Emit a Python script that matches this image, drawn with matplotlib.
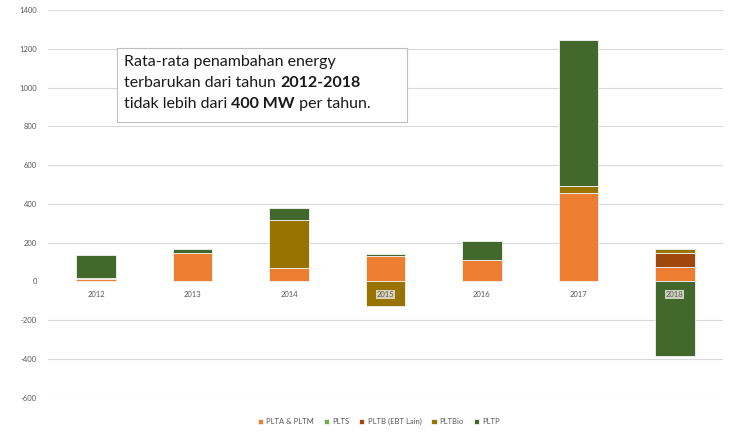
import numpy as np
import matplotlib.pyplot as plt

plt.rcParams['axes.unicode_minus'] = False

years = ['2012', '2013', '2014', '2015', '2016', '2017', '2018']
series_names = ['PLTA & PLTM', 'PLTS', 'PLTB (EBT Lain)', 'PLTBio', 'PLTP']
plta = [14, 146, 67, 131, 112, 458, 74]
plts = [0, 0, 0, 0, 0, 0, 0]
pltb = [0, 0, 0, 0, 0, 0, 74]
pltbio = [6, 0, 248, -125, 0, 33, 21]
pltp = [117, 23, 62, 12, 95, 754, -386]
colors = ['#ED7D31', '#70AD47', '#9E480E', '#997300', '#43682B']

fig = plt.figure(figsize=(7.5, 4.32), dpi=100)
ax = fig.add_axes([0.064, 0.079, 0.9, 0.898])

x = np.arange(len(years))
pos_base = np.zeros(len(years))
neg_base = np.zeros(len(years))
for name, vals, c in zip(series_names, [plta, plts, pltb, pltbio, pltp], colors):
    vals = np.array(vals, dtype=float)
    bottom = np.where(vals >= 0, pos_base, neg_base)
    ax.bar(x, vals, 0.41, bottom=bottom, color=c, label=name,
           edgecolor='#f4f4f4', linewidth=0.6, zorder=3)
    pos_base += np.where(vals > 0, vals, 0)
    neg_base += np.where(vals < 0, vals, 0)

ax.set_xlim(-0.5, len(years) - 0.5)
ax.set_ylim(-600, 1400)
ax.set_yticks(range(-600, 1401, 200))
ax.tick_params(axis='y', length=0, labelsize=5.5, labelcolor='#595959', pad=8)
for lbl in ax.get_yticklabels():
    lbl.set_family('Lato')
ax.set_xticks([])
for s in ax.spines.values():
    s.set_visible(False)
for v in range(-600, 1401, 200):
    if v != 0:
        ax.axhline(v, color='#D9D9D9', linewidth=0.8, zorder=1)

for i, yr in enumerate(years):
    bb = None
    if neg_base[i] < 0:
        bb = dict(boxstyle='square,pad=0.1', facecolor='#e8e4d8', edgecolor='none', alpha=0.85)
    ax.annotate(yr, (i, 0), xytext=(0, -12), textcoords='offset points', family='Lato',
                ha='center', va='bottom', fontsize=5.5, color='#595959', bbox=bb, zorder=5)

# text box with mixed bold
fig.patches.append(plt.Rectangle((117 / 750, 1 - 122 / 432), 290 / 750, 74 / 432,
                                 transform=fig.transFigure, facecolor='white',
                                 edgecolor='#BFBFBF', linewidth=0.8, zorder=4))
lines = [
    [('Rata-rata penambahan energy', 'normal')],
    [('terbarukan dari tahun ', 'normal'), ('2012-2018', 'bold')],
    [('tidak lebih dari ', 'normal'), ('400 MW', 'bold'), (' per tahun.', 'normal')],
]
renderer = fig.canvas.get_renderer()
for li, parts in enumerate(lines):
    xp = 124 / 750
    yp = 1 - (62 + li * 21) / 432
    for txt, wt in parts:
        t = fig.text(xp, yp, txt, fontsize=11.5, fontweight=wt, family='Lato',
                     va='center', ha='left', color='#1a1a1a', zorder=5)
        ext = t.get_window_extent(renderer)
        xp += ext.width / fig.bbox.width

leg = fig.legend(loc='lower center', bbox_to_anchor=(0.505, 0.0), ncol=5, frameon=False,
                 fontsize=5.5, handlelength=0.7, handleheight=0.7, columnspacing=1.3,
                 handletextpad=0.4, labelcolor='#595959', prop={'family': 'Lato', 'size': 5.5})

fig.savefig('out.png', dpi=100)
